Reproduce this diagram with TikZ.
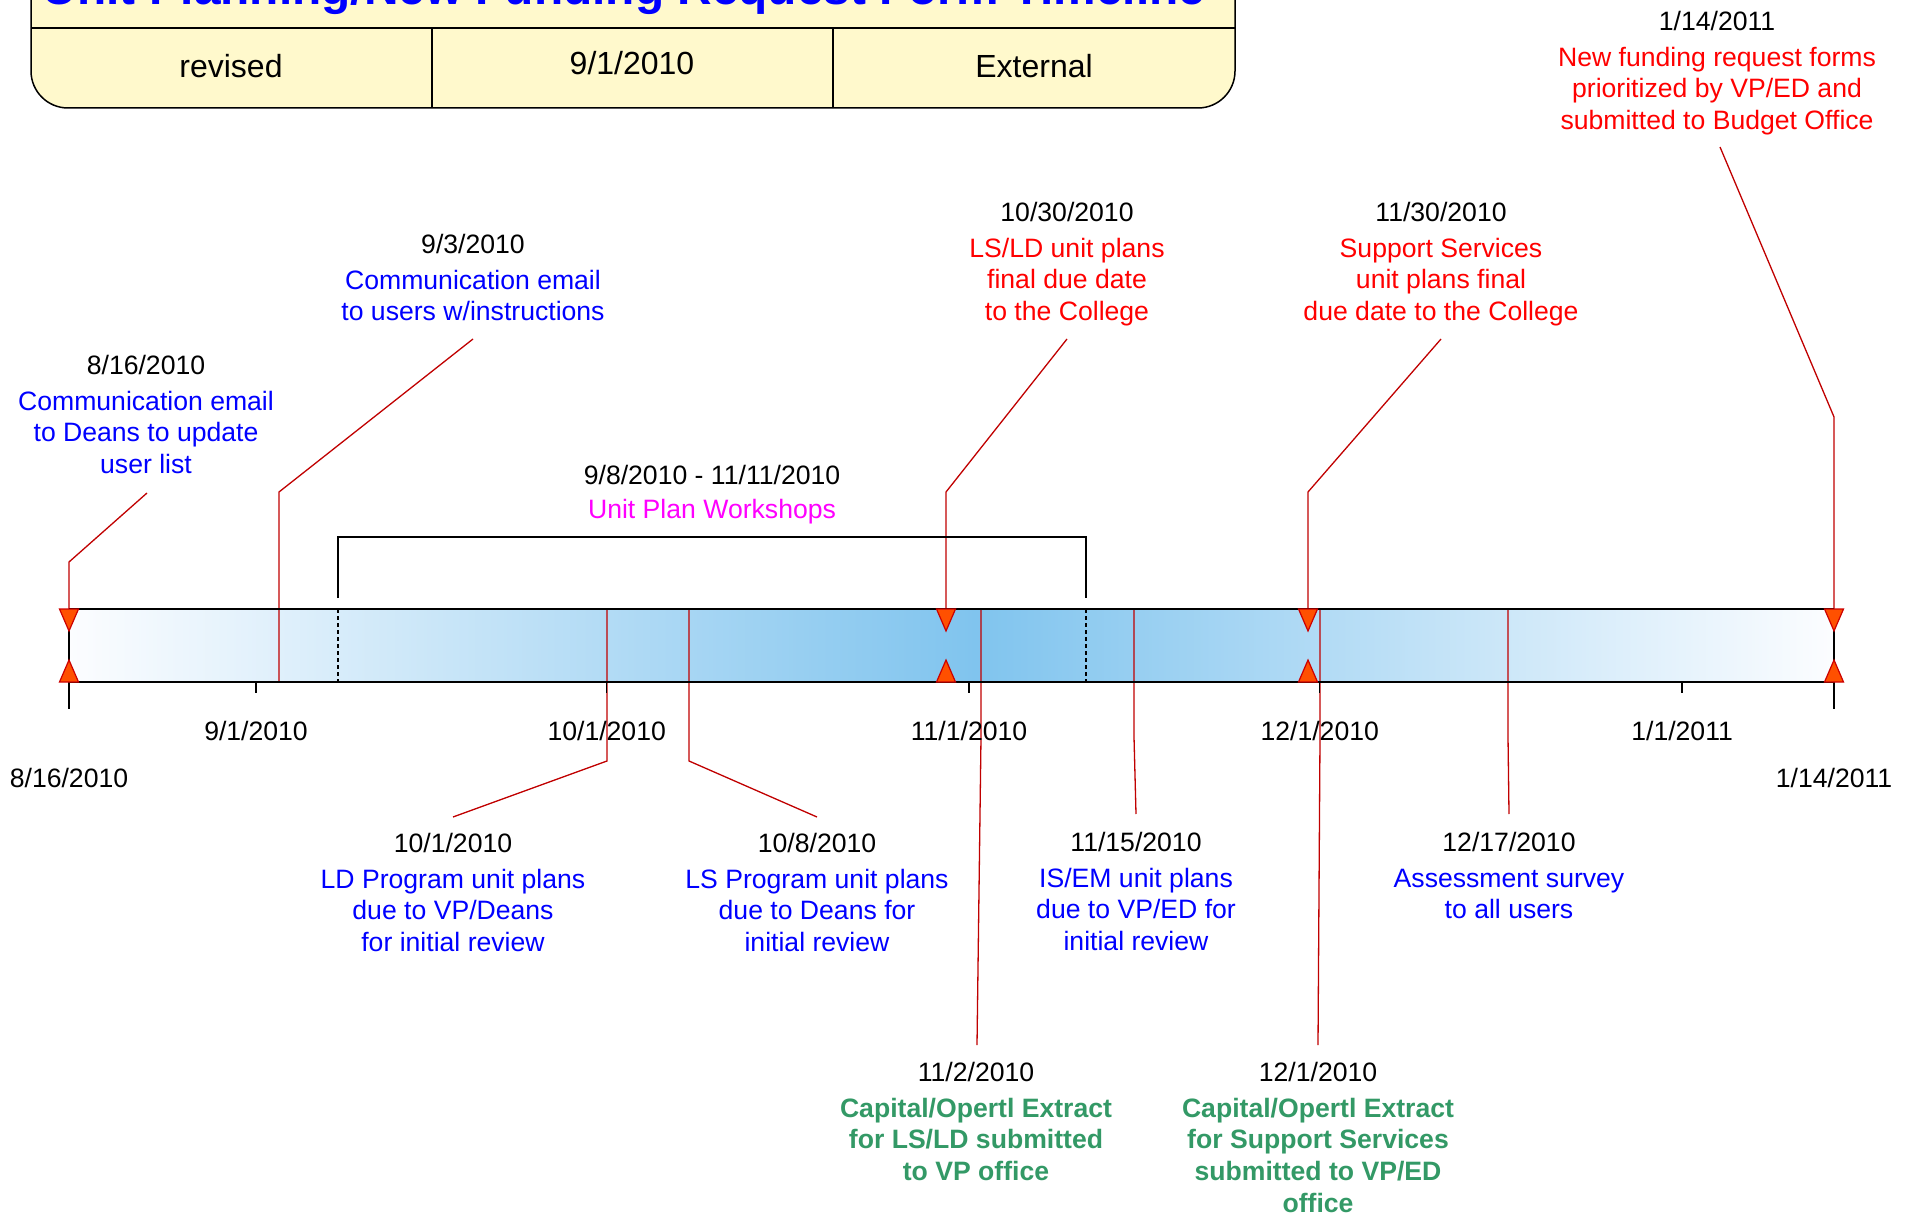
\documentclass[tikz,border=0pt]{standalone}
\usepackage{fontspec}
\setmainfont{Liberation Sans}
\usetikzlibrary{positioning}
\definecolor{evblue}{RGB}{0,0,255}
\definecolor{evred}{RGB}{255,0,0}
\definecolor{evgreen}{RGB}{51,153,102}
\definecolor{evpink}{RGB}{255,0,255}
\definecolor{leadred}{RGB}{192,0,0}
\definecolor{mkfill}{RGB}{255,80,0}
\definecolor{mkline}{RGB}{204,0,0}
\definecolor{hdrfill}{RGB}{255,249,204}
\definecolor{barpeak}{RGB}{128,196,238}
\definecolor{barend}{RGB}{252,253,255}
\newcommand{\evfont}{\fontsize{13.3}{15.8}\selectfont}
\newcommand{\mkdown}[1]{\filldraw[tri] (#1-9.5,609) -- (#1+9.5,609) -- (#1,631) -- cycle;}
\newcommand{\mkup}[1]{\filldraw[tri] (#1-9.5,682) -- (#1+9.5,682) -- (#1,660) -- cycle;}
\tikzset{
  evtxt/.style={align=center, inner sep=0pt, anchor=north, font=\evfont},
  lbl/.style={inner sep=0pt, font=\evfont},
  leader/.style={draw=leadred, line width=0.65pt},
  tri/.style={fill=mkfill, draw=mkline, line width=0.6pt, line join=miter},
  barline/.style={draw=black, line width=0.75pt},
  hdr/.style={draw=black, line width=0.75pt, fill=hdrfill}
}
\begin{document}
\begin{tikzpicture}[x=0.5pt, y=-0.5pt]
    \useasboundingbox (0,0) rectangle (1910,1213);
    \clip (0,0) rectangle (1910,1213);

    % header
    \draw[hdr, rounded corners=18.5pt] (31,-80) rectangle (1235,108);
    \draw[barline] (31,28) -- (1235,28);
    \draw[barline] (432,28) -- (432,108);
    \draw[barline] (833,28) -- (833,108);
    \node[font=\bfseries\fontsize{23.9}{28}\selectfont, text=evblue, anchor=base] (ttl) at (624,5) {Unit Planning/New Funding Request Form Timeline};
    \node[font=\fontsize{16}{19}\selectfont, anchor=base] (hrev) at (231,78) {revised};
    \node[font=\fontsize{16}{19}\selectfont, anchor=base] (hdat) at (632,75) {9/1/2010};
    \node[font=\fontsize{16}{19}\selectfont, anchor=base] (hext) at (1034,78) {External};

    % bar
    \shade[left color=barend, right color=barpeak] (69,609) rectangle (975,682);
    \shade[left color=barpeak, right color=barend] (975,609) rectangle (1834,682);

    % leaders
    \coordinate (p816) at (69,609);   \coordinate (k816) at (69,562);   \coordinate (e816) at (147,493);
    \coordinate (p903) at (279,682);  \coordinate (k903) at (279,492);  \coordinate (e903) at (473,339);
    \coordinate (p1030) at (946,609); \coordinate (k1030) at (946,492); \coordinate (e1030) at (1067,339);
    \coordinate (p1130) at (1308,609); \coordinate (k1130) at (1308,492); \coordinate (e1130) at (1441,339);
    \coordinate (p0114) at (1834,609); \coordinate (k0114) at (1834,417); \coordinate (e0114) at (1720,147);
    \coordinate (p1001) at (607,609); \coordinate (k1001) at (607,761); \coordinate (e1001) at (453,817);
    \coordinate (p1008) at (689,609); \coordinate (k1008) at (689,761); \coordinate (e1008) at (817,817);
    \coordinate (p1102) at (981,609); \coordinate (k1102) at (981,737); \coordinate (e1102) at (977,1045);
    \coordinate (p1115) at (1134,609); \coordinate (k1115) at (1134,737); \coordinate (e1115) at (1136,814);
    \coordinate (p1201) at (1320,609); \coordinate (k1201) at (1320,737); \coordinate (e1201) at (1318,1045);
    \coordinate (p1217) at (1508,609); \coordinate (k1217) at (1508,737); \coordinate (e1217) at (1509,814);
    \foreach \n in {816,903,1030,1130,0114,1001,1008,1102,1115,1201,1217}
        \draw[leader] (p\n) -- (k\n) -- (e\n);

    % bar outline and ticks
    \draw[barline] (69,609) -- (1834,609);
    \draw[barline] (69,682) -- (1834,682);
    \draw[barline] (69,609) -- (69,709) coordinate (tkL);
    \draw[barline] (1834,609) -- (1834,709) coordinate (tkR);
    \foreach \d in {16,46,77,107,138}
        \draw[barline] ({69+11.689*\d},682) -- ++(0,11) coordinate (tk\d);
    \draw[barline, dash pattern=on 2pt off 1.5pt] (338,609) -- (338,682);
    \draw[barline, dash pattern=on 2pt off 1.5pt] (1086,609) -- (1086,682);

    % markers
    \mkdown{69}    \mkup{69}
    \mkdown{946}   \mkup{946}
    \mkdown{1308}  \mkup{1308}
    \mkdown{1834}  \mkup{1834}

    % workshops bracket
    \draw[line width=1.2pt] (338,598) -- (338,537) -- (1086,537) -- (1086,598);
    \node[evtxt, text=evpink] (tws) at (712,465) {\textcolor{black}{9/8/2010 - 11/11/2010}\\[1pt]Unit Plan Workshops};

    % axis labels
    \node[lbl, below=14pt of tk16] (l0901) {9/1/2010};
    \node[lbl, below=14pt of tk46] (l1001) {10/1/2010};
    \node[lbl, below=14pt of tk77] (l1101) {11/1/2010};
    \node[lbl, below=14pt of tk107] (l1201) {12/1/2010};
    \node[lbl, below=14pt of tk138] (l0101) {1/1/2011};
    \node[lbl, below=29.5pt of tkL] (l0816) {8/16/2010};
    \node[lbl, below=29.5pt of tkR] (l0114) {1/14/2011};

    % events above
    \node[evtxt, text=evblue] (t816) at (146,355) {\textcolor{black}{8/16/2010}\\[2pt]Communication email\\to Deans to update\\user list};
    \node[evtxt, text=evblue] (t903) at (473,234) {\textcolor{black}{9/3/2010}\\[2pt]Communication email\\to users w/instructions};
    \node[evtxt, text=evred] (t1030) at (1067,202) {\textcolor{black}{10/30/2010}\\[2pt]LS/LD unit plans\\final due date\\to the College};
    \node[evtxt, text=evred] (t1130) at (1441,202) {\textcolor{black}{11/30/2010}\\[2pt]Support Services\\unit plans final\\due date to the College};
    \node[evtxt, text=evred] (t0114) at (1717,11) {\textcolor{black}{1/14/2011}\\[2pt]New funding request forms\\prioritized by VP/ED and\\submitted to Budget Office};

    % events below
    \node[evtxt, text=evblue] (t1001) at (453,833) {\textcolor{black}{10/1/2010}\\[2pt]LD Program unit plans\\due to VP/Deans\\for initial review};
    \node[evtxt, text=evblue] (t1008) at (817,833) {\textcolor{black}{10/8/2010}\\[2pt]LS Program unit plans\\due to Deans for\\initial review};
    \node[evtxt, text=evblue] (t1115) at (1136,832) {\textcolor{black}{11/15/2010}\\[2pt]IS/EM unit plans\\due to VP/ED for\\initial review};
    \node[evtxt, text=evblue] (t1217) at (1509,832) {\textcolor{black}{12/17/2010}\\[2pt]Assessment survey\\to all users};
    \node[evtxt, text=evgreen, font=\evfont\bfseries] (t1102) at (976,1062) {\textcolor{black}{\mdseries 11/2/2010}\\[2pt]Capital/Opertl Extract\\for LS/LD submitted\\to VP office};
    \node[evtxt, text=evgreen, font=\evfont\bfseries] (t1201) at (1318,1062) {\textcolor{black}{\mdseries 12/1/2010}\\[2pt]Capital/Opertl Extract\\for Support Services\\submitted to VP/ED\\office};
\end{tikzpicture}
\end{document}
